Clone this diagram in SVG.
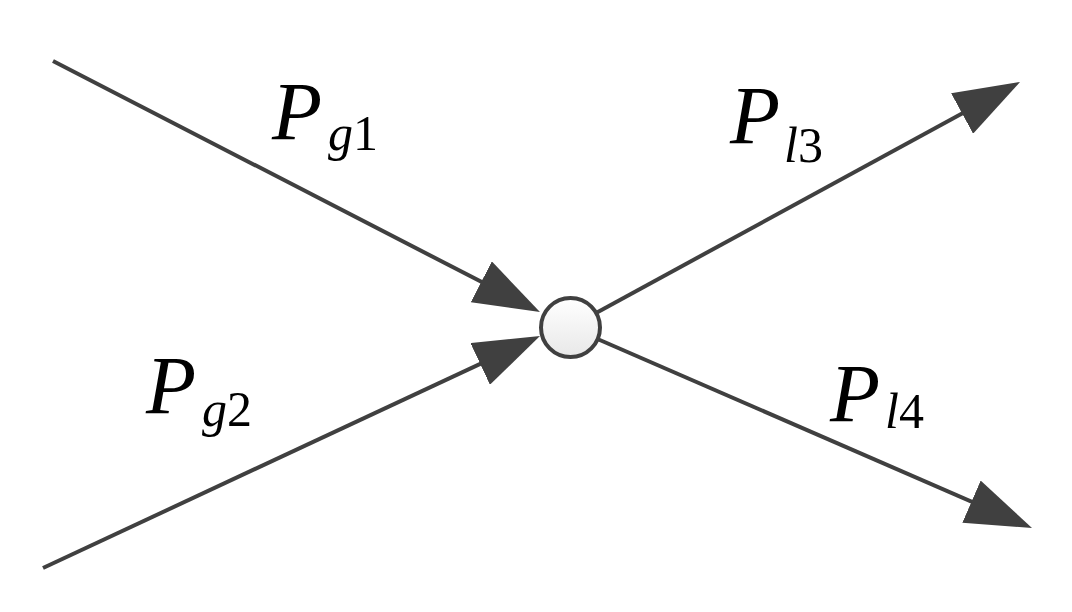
<svg xmlns="http://www.w3.org/2000/svg" width="1072" height="612" viewBox="0 0 1072 612">
  <defs>
    <linearGradient id="nodeFill" x1="0" y1="0" x2="0" y2="1">
      <stop offset="0" stop-color="#ffffff"/>
      <stop offset="1" stop-color="#e8e8e8"/>
    </linearGradient>
    <marker id="arrow" markerUnits="userSpaceOnUse" viewBox="0 0 66 46" markerWidth="66" markerHeight="46" refX="36" refY="23" orient="auto">
      <path d="M0,0 L66,23 L0,46 z" fill="#404040"/>
    </marker>
  </defs>
  <style>
    .edge { stroke: #404040; stroke-width: 4; fill: none; }
    text { font-family: Liberation Serif, Times New Roman, DejaVu Serif, serif; }
  </style>
  <rect width="1072" height="612" fill="#ffffff"/>
  <g id="connectors">
    <line class="edge" x1="53" y1="61" x2="513.3" y2="298.3" marker-end="url(#arrow)"/>
    <line class="edge" x1="43" y1="568" x2="512.8" y2="348.7" marker-end="url(#arrow)"/>
    <line class="edge" x1="596.5" y1="312.7" x2="993.7" y2="96.3" marker-end="url(#arrow)"/>
    <line class="edge" x1="597.5" y1="339" x2="1004.5" y2="516" marker-end="url(#arrow)"/>
  </g>
  <g id="node">
    <circle cx="570.5" cy="327.5" r="29.5" fill="url(#nodeFill)" stroke="#404040" stroke-width="4"/>
  </g>
  <g id="labels" fill="#000000">
    <g id="label-pg1">
      <text x="272" y="139" font-size="82" font-style="italic">P<tspan x="328" y="150" font-size="50" font-style="italic">g</tspan><tspan font-size="50" font-style="normal">1</tspan></text>
    </g>
    <g id="label-pg2">
      <text x="146" y="413" font-size="82" font-style="italic">P<tspan x="202" y="426" font-size="50" font-style="italic">g</tspan><tspan font-size="50" font-style="normal">2</tspan></text>
    </g>
    <g id="label-pl3">
      <text x="730" y="143" font-size="82" font-style="italic">P<tspan x="784" y="162" font-size="50" font-style="italic">l</tspan><tspan font-size="50" font-style="normal">3</tspan></text>
    </g>
    <g id="label-pl4">
      <text x="830" y="421" font-size="82" font-style="italic">P<tspan x="885" y="428" font-size="50" font-style="italic">l</tspan><tspan font-size="50" font-style="normal">4</tspan></text>
    </g>
  </g>
</svg>
